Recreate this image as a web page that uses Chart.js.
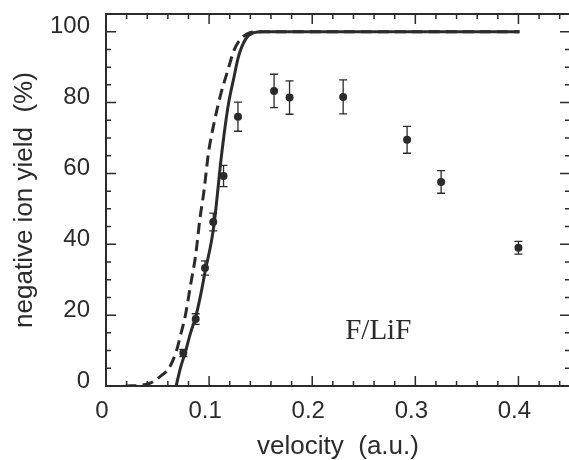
<!DOCTYPE html>
<html><head><meta charset="utf-8">
<script src="https://cdn.jsdelivr.net/npm/chart.js@4/dist/chart.umd.min.js"></script>
<style>html,body{margin:0;padding:0;background:#fff;overflow:hidden;}canvas{display:block;}</style>
</head><body>
<canvas id="c" width="574" height="460"></canvas>
<script>
// ---- data ----
const xTickValues = [0, 0.1, 0.2, 0.3, 0.4];
const xTickLabels = ['0', '0.1', '0.2', '0.3', '0.4'];
const yTickValues = [0, 20, 40, 60, 80, 100];
const yTickLabels = ['0', '20', '40', '60', '80', '100'];

// measured negative ion yield (points with error bars)
const velocity = [0.075, 0.087, 0.096, 0.104, 0.114, 0.128, 0.163, 0.178, 0.230, 0.292, 0.325, 0.400];
const yieldPct = [9.3, 18.9, 33.3, 46.3, 59.3, 76.0, 83.3, 81.4, 81.6, 69.5, 57.6, 39.0];
const yieldErr = [1.0, 1.5, 2.0, 2.5, 3.0, 4.1, 4.7, 4.7, 4.8, 3.8, 3.2, 1.8];

// solid theory curve
const solidV = [0.068, 0.0725, 0.077, 0.082, 0.087, 0.092, 0.0966, 0.1014, 0.105, 0.108, 0.111, 0.1145, 0.119, 0.124, 0.1285, 0.135, 0.143, 0.153, 0.401];
const solidY = [0, 5.4, 9.6, 15, 19.5, 26, 33, 39.5, 46, 54, 62.5, 71, 80, 87, 93, 97.7, 99.7, 100, 100];

// dashed theory curve
const dashV = [0.019, 0.034, 0.043, 0.053, 0.061, 0.068, 0.072, 0.077, 0.082, 0.087, 0.091, 0.095, 0.0995, 0.105, 0.111, 0.118, 0.1245, 0.130, 0.137, 0.145, 0.401];
const dashY = [0, 0.2, 0.8, 2.8, 5, 9.6, 14, 20, 28.5, 37, 47, 55, 66, 74.5, 82, 89, 95, 97.7, 99.4, 100, 100];

const labelText = 'F/LiF';
const labelPos = {x: 0.232, y: 13.3};

const INK = '#2b2b2b';
const pts = (xs, ys) => xs.map((x, i) => ({x: x, y: ys[i]}));

function labelFor(values, labels, v) {
  for (let i = 0; i < values.length; i++) if (Math.abs(values[i] - v) < 1e-9) return labels[i];
  return '';
}
function isMajor(values, v) {
  return values.some(m => Math.abs(m - v) < 1e-9);
}

const decor = {
  id: 'decor',
  afterDatasetsDraw(chart) {
    const ctx = chart.ctx, xs = chart.scales.x, ys = chart.scales.y;
    ctx.save();
    ctx.strokeStyle = INK; ctx.lineWidth = 1.3;
    velocity.forEach((v, i) => {
      const px = xs.getPixelForValue(v);
      const top = ys.getPixelForValue(yieldPct[i] + yieldErr[i]);
      const bot = ys.getPixelForValue(yieldPct[i] - yieldErr[i]);
      ctx.beginPath();
      ctx.moveTo(px, top); ctx.lineTo(px, bot);
      ctx.moveTo(px - 4, top); ctx.lineTo(px + 4, top);
      ctx.moveTo(px - 4, bot); ctx.lineTo(px + 4, bot);
      ctx.stroke();
    });
    ctx.restore();
  },
  afterDraw(chart) {
    const ctx = chart.ctx, a = chart.chartArea, xs = chart.scales.x, ys = chart.scales.y;
    ctx.save();
    ctx.strokeStyle = INK; ctx.lineWidth = 2;
    ctx.strokeRect(a.left, a.top, a.right - a.left, a.bottom - a.top);
    ctx.lineWidth = 1.5;
    ctx.beginPath();
    xs.ticks.forEach(t => {
      const px = xs.getPixelForValue(t.value);
      const len = isMajor(xTickValues, t.value) ? 10 : 5;
      ctx.moveTo(px, a.bottom); ctx.lineTo(px, a.bottom - len);
      ctx.moveTo(px, a.top); ctx.lineTo(px, a.top + len);
    });
    ys.ticks.forEach(t => {
      const py = ys.getPixelForValue(t.value);
      const len = isMajor(yTickValues, t.value) ? 10 : 5;
      ctx.moveTo(a.left, py); ctx.lineTo(a.left + len, py);
      ctx.moveTo(a.right, py); ctx.lineTo(a.right - len, py);
    });
    ctx.stroke();
    ctx.fillStyle = INK;
    ctx.font = '29px "Liberation Serif", "Times New Roman", serif';
    ctx.textAlign = 'left'; ctx.textBaseline = 'alphabetic';
    ctx.fillText(labelText, xs.getPixelForValue(labelPos.x), ys.getPixelForValue(labelPos.y));
    ctx.restore();
  }
};

const tickFont = {family: '"Liberation Sans", Arial, Helvetica, sans-serif', size: 24};
const titleFont = {family: '"Liberation Sans", Arial, Helvetica, sans-serif', size: 26, lineHeight: 1.0};

new Chart(document.getElementById('c'), {
  type: 'scatter',
  data: {
    datasets: [
      {label: 'data', data: pts(velocity, yieldPct), showLine: false, pointRadius: 4, pointBackgroundColor: INK, pointBorderColor: INK, pointBorderWidth: 0},
      {label: 'solid', data: pts(solidV, solidY), showLine: true, pointRadius: 0, borderColor: INK, borderWidth: 3, cubicInterpolationMode: 'monotone', fill: false},
      {label: 'dashed', data: pts(dashV, dashY), showLine: true, pointRadius: 0, borderColor: INK, borderWidth: 3, borderDash: [11, 6], cubicInterpolationMode: 'monotone', fill: false}
    ]
  },
  options: {
    responsive: false,
    animation: false,
    events: [],
    layout: {padding: {top: 14, right: 2, left: 0, bottom: 0}},
    plugins: {legend: {display: false}, tooltip: {enabled: false}},
    scales: {
      x: {
        type: 'linear', min: 0, max: 0.45,
        grid: {display: false, drawTicks: false},
        border: {display: false},
        ticks: {stepSize: 0.02, includeBounds: false, autoSkip: false, maxRotation: 0, padding: 11, labelOffset: -4,
          color: INK, font: tickFont, callback: v => labelFor(xTickValues, xTickLabels, v)},
        title: {display: true, text: 'velocity  (a.u.)', color: INK, font: titleFont, padding: {top: 0, bottom: 0}},
        afterFit: s => { s.height = 74; s.paddingLeft = 0; s.paddingRight = 0; }
      },
      y: {
        type: 'linear', min: 0, max: 105,
        grid: {display: false, drawTicks: false},
        border: {display: false},
        ticks: {stepSize: 5, includeBounds: false, autoSkip: false, padding: 16, labelOffset: -5,
          color: INK, font: tickFont, callback: v => labelFor(yTickValues, yTickLabels, v)},
        title: {display: true, text: 'negative ion yield  (%)', color: INK, font: titleFont, padding: {top: 12, bottom: 12}},
        afterFit: s => { s.width = 106; s.paddingTop = 0; s.paddingBottom = 0; }
      }
    }
  },
  plugins: [decor]
});
</script>
</body></html>
